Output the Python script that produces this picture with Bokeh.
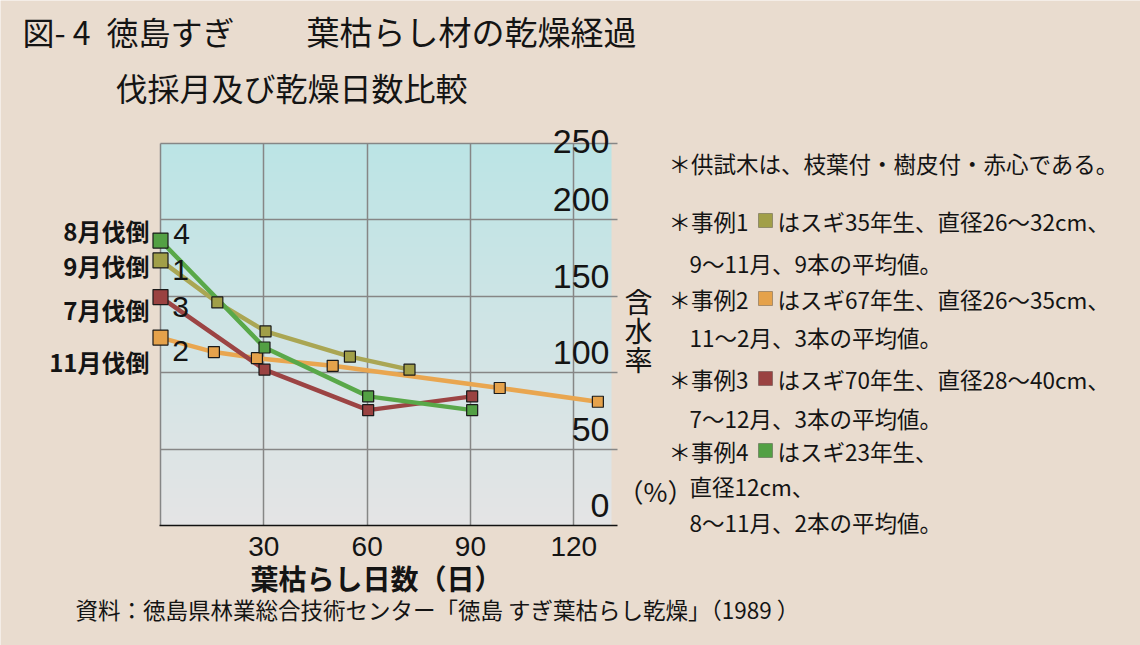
import numpy as np
from bokeh.plotting import figure
from bokeh.models import Range1d, FixedTicker, Grid, Label, BoxAnnotation
from bokeh.embed import file_html
from bokeh.resources import INLINE

# ---------------- data ----------------
case1_days = [0, 16.5, 30.5, 55, 72.3]
case1_mc = [173.5, 146, 127, 110.5, 102]
case2_days = [0, 15.5, 28, 50, 98.5, 127]
case2_mc = [123, 113.5, 109.5, 104.5, 90, 81]
case3_days = [0, 30.2, 60.3, 90.5]
case3_mc = [149.5, 102, 75.5, 84.5]
case4_days = [0, 30.2, 60.3, 90.5]
case4_mc = [186.5, 116.5, 84.5, 75.5]

x_ticks = [30, 60, 90, 120]
x_tick_labels = ["30", "60", "90", "120"]
x_grid = [0, 30, 60, 90, 120]
y_ticks = [0, 50, 100, 150, 200, 250]
y_tick_labels = ["0", "50", "100", "150", "200", "250"]

case_numbers = ["4", "1", "3", "2"]
felling_labels = ["8月伐倒", "9月伐倒", "7月伐倒", "11月伐倒"]

title_a = "図- 4\u2002徳島すぎ"
title_b = "葉枯らし材の乾燥経過"
subtitle = "伐採月及び乾燥日数比較"
x_title = "葉枯らし日数（日）"
y_title = ["含", "水", "率"]
y_unit = "（%）"
source = "資料：徳島県林業総合技術センター「徳島 すぎ葉枯らし乾燥」（1989 ）"
note_top = "＊供試木は、枝葉付・樹皮付・赤心である。"
case_heads = ["＊事例1", "＊事例2", "＊事例3", "＊事例4"]
case_desc = ["はスギ35年生、直径26～32cm、", "はスギ67年生、直径26～35cm、",
             "はスギ70年生、直径28～40cm、", "はスギ23年生、"]
case_cont = [["9～11月、9本の平均値。"], ["11～2月、3本の平均値。"],
             ["7～12月、3本の平均値。"], ["直径12cm、", "8～11月、2本の平均値。"]]

# ---------------- styling / layout ----------------
W, H = 1140, 645
FL, FR, FT, FB = 160, 617, 143, 525      # plotting-area edges in pixels
XMAX, YMAX = 132.7, 250
BG = "#e9dccf"
TXT = "#141414"
JP = "Noto Sans CJK JP"
NUM = "Liberation Sans"

line_cols = ["#aaa653", "#e9a650", "#9c4444", "#59a849"]
fill_cols = ["#a19f48", "#e5a24b", "#9a4241", "#53a044"]


def dx(px):
    return (px - FL) / (FR - FL) * XMAX


def dy(py):
    return (FB - py) / (FB - FT) * YMAX


# the frame covers the whole canvas so that nothing is clipped; the data scale
# maps days 0..XMAX onto pixels FL..FR and moisture 0..250 onto FB..FT
p = figure(width=W, height=H, x_range=Range1d(dx(0), dx(W)), y_range=Range1d(dy(H), dy(0)),
           output_backend="svg", toolbar_location=None, title=None,
           x_axis_location=None, y_axis_location=None,
           min_border=0, min_border_left=0, min_border_right=0,
           min_border_top=0, min_border_bottom=0)
p.border_fill_color = BG
p.background_fill_color = BG
p.outline_line_color = None
p.grid.visible = False

# gradient background of the plotting area
n = FB - FT
t = np.linspace(0.0, 1.0, n)[:, None]          # 0 bottom -> 1 top
bottom_rgb = np.array([229, 229, 229])
top_rgb = np.array([188, 228, 230])
rgb = (bottom_rgb + (top_rgb - bottom_rgb) * t).astype(np.uint8)
img = np.empty((n, 1), dtype=np.uint32)
view = img.view(dtype=np.uint8).reshape((n, 1, 4))
view[:, 0, 0] = rgb[:, 0]
view[:, 0, 1] = rgb[:, 1]
view[:, 0, 2] = rgb[:, 2]
view[:, 0, 3] = 255
p.image_rgba(image=[img], x=0, y=0, dw=dx(611), dh=YMAX, level="image")

grid_col = "#868686"
p.add_layout(Grid(dimension=0, ticker=FixedTicker(ticks=x_grid), cross_bounds=(0, YMAX),
                  grid_line_color=grid_col, grid_line_width=1.5))
p.add_layout(Grid(dimension=1, ticker=FixedTicker(ticks=y_ticks[1:]),
                  cross_bounds=(0, dx(FR)),
                  grid_line_color=grid_col, grid_line_width=1.5))
# x axis line
p.add_layout(Grid(dimension=1, ticker=FixedTicker(ticks=[0]),
                  cross_bounds=(dx(FL - 1), dx(FR)),
                  grid_line_color="#111111", grid_line_width=1.6))

series = [(case1_days, case1_mc), (case2_days, case2_mc),
          (case3_days, case3_mc), (case4_days, case4_mc)]
for (xs, ys), lc in zip(series, line_cols):
    p.line(xs, ys, line_width=4.5, line_color=lc)
for (xs, ys), fc in zip(series, fill_cols):
    sizes = [15] + [11] * (len(xs) - 1)
    p.scatter(xs, ys, marker="square", size=sizes, fill_color=fc,
              line_color="#1a1a1a", line_width=1.2)


def lab(text, x, y, size, align="left", font=JP, style="normal", color=TXT):
    p.add_layout(Label(x=x, y=y, text=text, text_font=font,
                       text_font_size=size, text_font_style=style,
                       text_align=align, text_baseline="middle",
                       text_color=color))


# x tick labels
for v, s in zip(x_ticks, x_tick_labels):
    lab(s, v, dy(546), "28px", align="center", font=NUM)

# y tick labels (drawn inside plot, above grid lines)
for v, s in zip(y_ticks, y_tick_labels):
    raise_px = 2 if v == YMAX else 20
    lab(s, dx(609), v + raise_px * YMAX / (FB - FT), "34px", align="right", font=NUM)

# titles
lab(title_a, dx(22), dy(30), "32px")
lab(title_b, dx(306), dy(30), "33px")
lab(subtitle, dx(115), dy(86), "32px")
lab(x_title, dx(250), dy(577), "28px", style="bold")
for ch, py in zip(y_title, [300, 329, 358]):
    lab(ch, dx(638), dy(py), "28px", align="center")
lab(y_unit, dx(617), dy(490), "26px")
lab(source, dx(75), dy(608), "22.5px")

# left felling-month labels and case numbers
for s, py in zip(felling_labels, [230, 265, 309, 361]):
    lab(s, dx(149), dy(py), "24px", align="right", style="bold")
for s, (px, py) in zip(case_numbers, [(181, 233), (180, 269), (180, 306), (180, 350)]):
    lab(s, dx(px), dy(py), "30px", align="center", font=NUM)

# notes on the right
lab(note_top, dx(668), dy(162), "22.5px")
head_y = [220, 298, 378, 450]
cont_y = [[262], [336], [417], [485, 521]]
for i in range(4):
    lab(case_heads[i], dx(668), dy(head_y[i]), "22.5px")
    p.add_layout(BoxAnnotation(left=dx(758), right=dx(772), top=dy(head_y[i] - 7),
                               bottom=dy(head_y[i] + 7), fill_color=fill_cols[i],
                               fill_alpha=1.0, line_color="#1a1a1a", line_width=1))
    lab(case_desc[i], dx(777), dy(head_y[i]), "22.5px")
    for s, py in zip(case_cont[i], cont_y[i]):
        lab(s, dx(689), dy(py), "22.5px")

open("out.html", "w").write(file_html(p, INLINE))
